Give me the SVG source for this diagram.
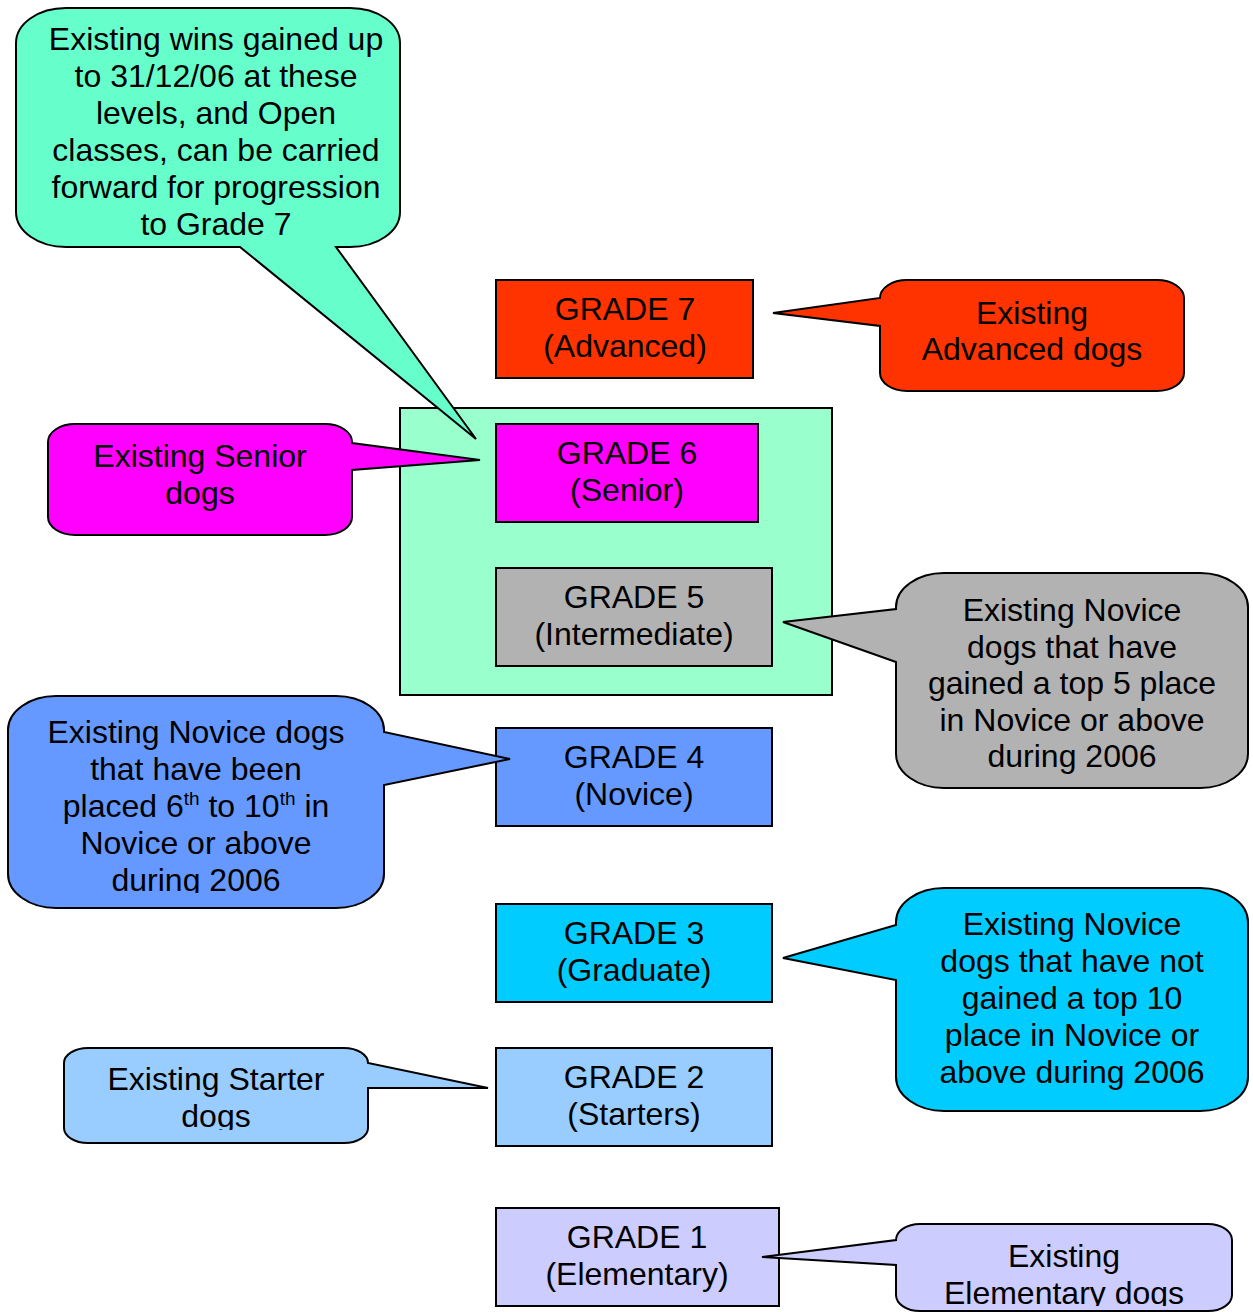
<svg xmlns="http://www.w3.org/2000/svg" width="1253" height="1312" viewBox="0 0 1253 1312">
<style>
text{font-family:"Liberation Sans",Arial,sans-serif;font-size:32px;fill:#000;text-anchor:middle}
.box{stroke:#000;stroke-width:2}
.co{stroke:#000;stroke-width:2;stroke-linejoin:miter}
.sup{font-size:19px}
</style>
<defs>
<clipPath id="clipNov"><rect x="0" y="690" width="400" height="203"/></clipPath>
<clipPath id="clipSta"><rect x="60" y="1040" width="320" height="90"/></clipPath>
<clipPath id="clipEle"><rect x="890" y="1220" width="350" height="86"/></clipPath>
</defs>
<rect width="1253" height="1312" fill="#fff"/>

<g id="container">
<rect x="400" y="408" width="432" height="287" fill="#99FFCC" class="box"/>
</g>

<g id="grade7">
<rect x="496" y="280" width="257" height="98" fill="#FF3300" class="box"/>
<text x="625" y="320">GRADE 7</text><text x="625" y="357">(Advanced)</text>
</g>
<g id="grade6">
<rect x="496" y="424" width="262" height="98" fill="#FF00FF" class="box"/>
<text x="627" y="464">GRADE 6</text><text x="627" y="501">(Senior)</text>
</g>
<g id="grade5">
<rect x="496" y="568" width="276" height="98" fill="#B2B2B2" class="box"/>
<text x="634" y="608">GRADE 5</text><text x="634" y="645">(Intermediate)</text>
</g>
<g id="grade4">
<rect x="496" y="728" width="276" height="98" fill="#6699FF" class="box"/>
<text x="634" y="768">GRADE 4</text><text x="634" y="805">(Novice)</text>
</g>
<g id="grade3">
<rect x="496" y="904" width="276" height="98" fill="#00CCFF" class="box"/>
<text x="634" y="944">GRADE 3</text><text x="634" y="981">(Graduate)</text>
</g>
<g id="grade2">
<rect x="496" y="1048" width="276" height="98" fill="#99CCFF" class="box"/>
<text x="634" y="1088">GRADE 2</text><text x="634" y="1125">(Starters)</text>
</g>
<g id="grade1">
<rect x="496" y="1208" width="283" height="98" fill="#CCCCFF" class="box"/>
<text x="637" y="1248">GRADE 1</text><text x="637" y="1285">(Elementary)</text>
</g>

<g id="callout-wins">
<path class="co" fill="#66FFCC" d="M 66,8 H 350 A 50 35 0 0 1 400 43 V 212 A 50 35 0 0 1 350 247 H 336 L 476 439 L 240 247 H 66 A 50 35 0 0 1 16 212 V 43 A 50 35 0 0 1 66 8 Z"/>
<text x="216" y="50">Existing wins gained up</text>
<text x="216" y="87">to 31/12/06 at these</text>
<text x="216" y="124">levels, and Open</text>
<text x="216" y="161">classes, can be carried</text>
<text x="216" y="198">forward for progression</text>
<text x="216" y="235">to Grade 7</text>
</g>

<g id="callout-advanced">
<path class="co" fill="#FF3300" d="M 907,280 H 1157 A 27 18 0 0 1 1184 298 V 373 A 27 18 0 0 1 1157 391 H 907 A 27 18 0 0 1 880 373 V 326 L 773 313 L 880 298 A 27 18 0 0 1 907 280 Z"/>
<text x="1032" y="324">Existing</text>
<text x="1032" y="360">Advanced dogs</text>
</g>

<g id="callout-senior">
<path class="co" fill="#FF00FF" d="M 75,424 H 325 A 27 18 0 0 1 352 442 V 443 L 480 460 L 352 470 V 517 A 27 18 0 0 1 325 535 H 75 A 27 18 0 0 1 48 517 V 442 A 27 18 0 0 1 75 424 Z"/>
<text x="200" y="467">Existing Senior</text>
<text x="200" y="504">dogs</text>
</g>

<g id="callout-intermediate">
<path class="co" fill="#B2B2B2" d="M 944,573 H 1200 A 48 34 0 0 1 1248 607 V 754 A 48 34 0 0 1 1200 788 H 944 A 48 34 0 0 1 896 754 V 662 L 783 622 L 896 609 V 607 A 48 34 0 0 1 944 573 Z"/>
<text x="1072" y="621">Existing Novice</text>
<text x="1072" y="658">dogs that have</text>
<text x="1072" y="694">gained a top 5 place</text>
<text x="1072" y="731">in Novice or above</text>
<text x="1072" y="767">during 2006</text>
</g>

<g id="callout-novice">
<path class="co" fill="#6699FF" d="M 56,696 H 336 A 48 34 0 0 1 384 730 V 732 L 510 759 L 384 785 V 874 A 48 34 0 0 1 336 908 H 56 A 48 34 0 0 1 8 874 V 730 A 48 34 0 0 1 56 696 Z"/>
<g clip-path="url(#clipNov)">
<text x="196" y="743">Existing Novice dogs</text>
<text x="196" y="780">that have been</text>
<text x="196" y="817">placed 6<tspan class="sup" dy="-12">th</tspan><tspan dy="12"> to 10</tspan><tspan class="sup" dy="-12">th</tspan><tspan dy="12"> in</tspan></text>
<text x="196" y="854">Novice or above</text>
<text x="196" y="891">during 2006</text>
</g>
</g>

<g id="callout-graduate">
<path class="co" fill="#00CCFF" d="M 944,888 H 1200 A 48 34 0 0 1 1248 922 V 1077 A 48 34 0 0 1 1200 1111 H 944 A 48 34 0 0 1 896 1077 V 980 L 783 958 L 896 925 V 922 A 48 34 0 0 1 944 888 Z"/>
<text x="1072" y="935">Existing Novice</text>
<text x="1072" y="972">dogs that have not</text>
<text x="1072" y="1009">gained a top 10</text>
<text x="1072" y="1046">place in Novice or</text>
<text x="1072" y="1083">above during 2006</text>
</g>

<g id="callout-starter">
<path class="co" fill="#99CCFF" d="M 88,1048 H 344 A 24 15 0 0 1 368 1063 L 488 1088 L 368 1088 V 1128 A 24 15 0 0 1 344 1143 H 88 A 24 15 0 0 1 64 1128 V 1063 A 24 15 0 0 1 88 1048 Z"/>
<g clip-path="url(#clipSta)">
<text x="216" y="1090">Existing Starter</text>
<text x="216" y="1127">dogs</text>
</g>
</g>

<g id="callout-elementary">
<path class="co" fill="#CCCCFF" d="M 920,1224 H 1208 A 24 16 0 0 1 1232 1240 V 1295 A 24 16 0 0 1 1208 1311 H 920 A 24 16 0 0 1 896 1295 V 1265 L 762 1257 L 896 1240 A 24 16 0 0 1 920 1224 Z"/>
<g clip-path="url(#clipEle)">
<text x="1064" y="1267">Existing</text>
<text x="1064" y="1304">Elementary dogs</text>
</g>
</g>
</svg>
